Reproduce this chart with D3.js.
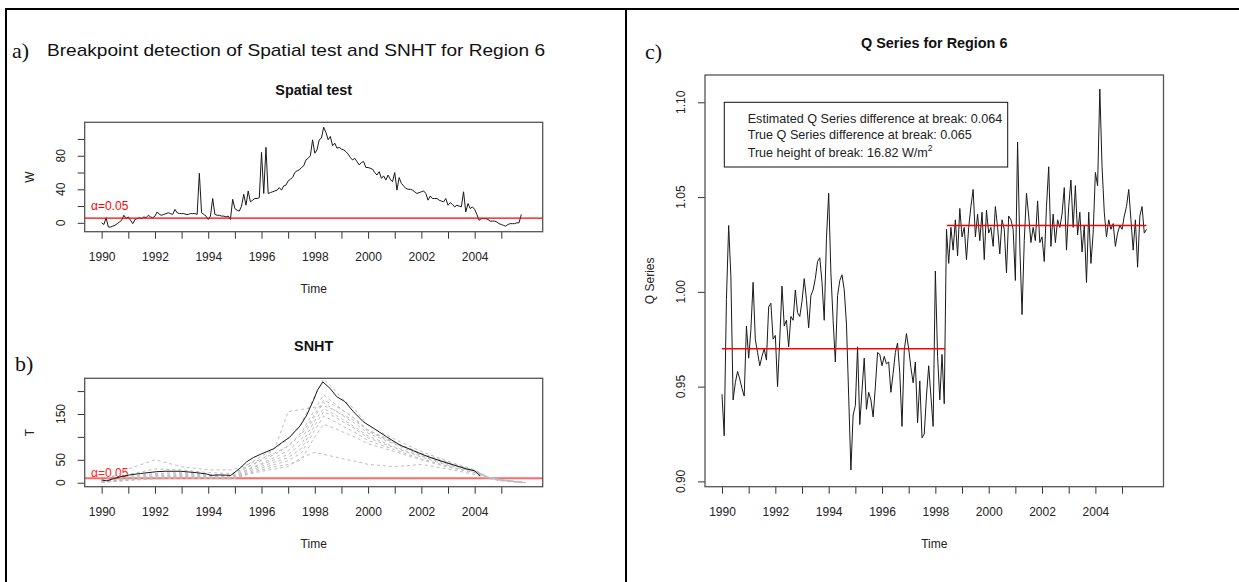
<!DOCTYPE html>
<html>
<head>
<meta charset="utf-8">
<script src="https://cdn.jsdelivr.net/npm/d3@7"></script>
<style>
  html, body { margin: 0; padding: 0; background: #fff; }
  svg { display: block; font-family: "Liberation Sans", Arial, Helvetica, sans-serif; }
</style>
</head>
<body>
<svg id="fig" width="1239" height="582"></svg>
<script>
// ---- shared time axis ----
const seriesStart = 1990;                 // first monthly observation
const xTickYears = d3.range(1990, 2006);  // one tick per year
const xTickLabels = ["1990", "1992", "1994", "1996", "1998", "2000", "2002", "2004"];
const xDomain = [1989.363, 2006.554];

// ---- a) spatial test statistic W, monthly ----
const spatialW = [
  0, -2, 6, -5, -5, -4, -3, -1, 1, 3, 9, 5,
  7, 3, -1, 4, 5, 6, 5, 7, 6, 9, 7, 6,
  8, 13, 10, 9, 10, 11, 12, 11, 10, 16, 12, 11,
  11, 11, 10, 10, 11, 11, 11, 10, 59, 12, 10, 8,
  4, 8, 29, 10, 9, 9, 8, 8, 7, 8, 4, 28,
  17, 15, 14, 20, 34, 21, 38, 25, 27, 29, 29, 30,
  84, 35, 90, 35, 36, 37, 38, 39, 42, 39, 44, 45,
  50, 52, 54, 60, 62, 63, 66, 68, 75, 77, 80, 99,
  83, 87, 99, 101, 114, 108, 99, 103, 92, 95, 89, 90,
  88, 87, 85, 82, 78, 75, 77, 73, 69, 72, 73, 66,
  66, 65, 64, 60, 57, 61, 53, 56, 51, 57, 52, 49,
  60, 39, 54, 47, 44, 41, 40, 40, 39, 37, 35, 36,
  37, 38, 35, 27, 32, 29, 29, 29, 27, 26, 25, 29,
  21, 24, 22, 19, 21, 20, 19, 37, 13, 23, 17, 19,
  16, 10, 3, 5, 5, 5, 4, 2, 2, 2, 1, -1,
  -2, -3, -4, -2, -1, -1, -1, 0, 0, 10
];
const alphaW = 5.6;
const wTicks = [0, 20, 40, 60, 80, 100];
const wTickLabels = ["0", "40", "80"];

// ---- b) SNHT statistic T for the region and its reference series ----
const snhtTimes = [1990, 1990.2, 1990.45, 1990.7, 1991.05, 1991.45, 1992.05, 1992.4, 1992.95,
  1993.55, 1993.95, 1994.1, 1994.4, 1994.85, 1995.2, 1995.45, 1995.7, 1996.0, 1996.45,
  1996.75, 1997.05, 1997.45, 1997.7, 1997.95, 1998.1, 1998.3, 1998.57, 1998.82, 1999.13,
  1999.45, 1999.82, 2000.2, 2000.7, 2001.2, 2001.7, 2002.2, 2002.7, 2003.2, 2003.7,
  2004.0, 2004.2];
const snhtT = [6, 4, 9, 13, 17, 20, 24, 25, 25,
  22, 19, 16, 17, 16, 32, 46, 55, 63, 74,
  87, 99, 124, 148, 180, 202, 220, 206, 188, 177,
  155, 133, 119, 100, 82, 70, 58, 48, 39, 30,
  26, 15];
const refTimes = [1990, 1990.5, 1991, 1992, 1993, 1994, 1994.9, 1995.5, 1996, 1996.5, 1997,
  1997.5, 1998, 1998.33, 1998.7, 1999, 1999.5, 2000, 2001, 2002, 2003, 2004, 2004.5, 2005, 2005.9];
const refT = [
  [3, 8, 14, 20, 22, 18, 16, 40, 58, 75, 95, 130, 190, 226, 205, 185, 160, 125, 95, 68, 47, 28, 12, 7, 0],
  [4, 10, 18, 30, 28, 22, 20, 35, 50, 75, 155, 160, 165, 168, 160, 150, 135, 115, 88, 62, 42, 25, 12, 6, 0],
  [2, 6, 12, 18, 20, 16, 14, 35, 48, 62, 80, 110, 160, 192, 175, 160, 140, 115, 88, 64, 45, 27, 12, 6, 0],
  [3, 7, 10, 15, 18, 15, 13, 30, 42, 55, 70, 95, 145, 175, 160, 148, 130, 108, 84, 60, 42, 26, 12, 6, 0],
  [2, 5, 9, 14, 16, 13, 12, 28, 40, 50, 62, 85, 135, 162, 150, 140, 122, 102, 78, 58, 40, 25, 12, 6, 0],
  [1, 4, 8, 12, 14, 12, 11, 25, 36, 45, 55, 75, 125, 155, 145, 135, 118, 98, 76, 56, 38, 24, 11, 5, 0],
  [2, 4, 7, 11, 13, 11, 10, 22, 32, 40, 48, 65, 115, 145, 135, 125, 110, 92, 72, 52, 36, 22, 11, 5, 0],
  [1, 3, 6, 10, 12, 10, 9, 20, 28, 35, 40, 50, 100, 128, 120, 112, 100, 85, 68, 50, 34, 21, 10, 5, 0],
  [1, 3, 5, 8, 10, 9, 8, 18, 25, 30, 35, 55, 66, 62, 57, 53, 47, 40, 35, 40, 30, 18, 9, 4, 0],
  [5, 15, 30, 50, 35, 28, 28, 40, 52, 65, 80, 105, 150, 180, 170, 160, 140, 112, 86, 62, 43, 26, 12, 6, 0]
];
const alphaT = 10;
const tTicks = [0, 50, 100, 150, 200];
const tTickLabels = ["0", "50", "150"];

// ---- c) Q series, monthly, with segment means either side of the break ----
const qSeries = [
  0.946, 0.924, 0.996, 1.035, 1.008, 0.943, 0.952, 0.958, 0.954, 0.949, 0.945, 0.982,
  0.965, 0.980, 1.005, 0.975, 0.968, 0.961, 0.966, 0.970, 0.964, 0.992, 0.994, 0.975,
  0.977, 0.950, 0.975, 1.003, 0.982, 0.985, 0.971, 0.987, 0.985, 1.001, 0.989, 0.987,
  0.995, 1.007, 0.996, 0.981, 0.998, 1.001, 1.007, 1.016, 1.018, 1.005, 0.985, 1.028,
  1.052, 1.010, 0.985, 0.963, 0.998, 1.006, 1.009, 1.001, 0.983, 0.945, 0.906, 0.935,
  0.940, 0.971, 0.930, 0.948, 0.965, 0.938, 0.947, 0.943, 0.934, 0.950, 0.968, 0.967,
  0.961, 0.966, 0.962, 0.963, 0.947, 0.957, 0.968, 0.973, 0.957, 0.929, 0.969, 0.978,
  0.970, 0.960, 0.952, 0.963, 0.931, 0.953, 0.923, 0.925, 0.945, 0.961, 0.945, 0.929,
  1.011, 0.966, 0.943, 0.967, 0.941, 1.033, 1.015, 1.034, 1.022, 1.038, 1.019, 1.044,
  1.029, 1.034, 1.017, 1.034, 1.045, 1.054, 1.029, 1.041, 1.027, 1.042, 1.017, 1.043,
  1.031, 1.034, 1.024, 1.045, 1.034, 1.020, 1.038, 1.033, 1.010, 1.040, 1.038, 1.033,
  1.006, 1.079, 1.024, 0.988, 1.027, 1.052, 1.040, 1.026, 1.034, 1.027, 1.048, 1.026,
  1.029, 1.016, 1.045, 1.066, 1.024, 1.041, 1.026, 1.038, 1.034, 1.041, 1.055, 1.022,
  1.045, 1.059, 1.034, 1.056, 1.030, 1.042, 1.021, 1.035, 1.005, 1.042, 1.015, 1.031,
  1.063, 1.056, 1.107, 1.066, 1.042, 1.029, 1.038, 1.033, 1.036, 1.024, 1.031, 1.035,
  1.033, 1.040, 1.045, 1.054, 1.038, 1.022, 1.038, 1.013, 1.040, 1.045, 1.031, 1.033
];
const qMeanBefore = 0.970;
const qMeanAfter = 1.035;
const qBreakEnd = 1998.37;    // last instant of the first segment mean
const qBreakStart = 1998.43;  // first instant of the second segment mean
const qTicks = [0.90, 0.95, 1.00, 1.05, 1.10];
const qTickLabels = ["0.90", "0.95", "1.00", "1.05", "1.10"];
const estDiff = "0.064";
const trueDiff = "0.065";
const trueHeight = "16.82";

// ---------------------------------------------------------------
const svg = d3.select("#fig");
const axisColor = "#333";
const monthly = (vals) => vals.map((v, i) => ({ t: seriesStart + i / 12, v }));

function drawPanel(opts) {
  const { box, yDomain, yTicks, yLabels, yFmt, title, yTitle } = opts;
  const x = d3.scaleLinear().domain(xDomain).range([box.l, box.r]);
  const y = d3.scaleLinear().domain(yDomain).range([box.b, box.t]);
  const g = svg.append("g");

  // x axis: ticks every year, labels every second year
  const xa = g.append("g")
    .attr("transform", `translate(0,${box.b})`)
    .call(d3.axisBottom(x).tickValues(xTickYears).tickSize(7).tickPadding(14)
      .tickFormat(d => xTickLabels.includes(String(d)) ? String(d) : ""));
  xa.select(".domain").remove();
  xa.selectAll("line").attr("stroke", axisColor);
  xa.selectAll("text").attr("font-size", 12).attr("fill", "#222")
    .attr("font-family", '"Liberation Sans", Arial, sans-serif');

  // y axis ticks
  const ya = g.append("g")
    .attr("transform", `translate(${box.l},0)`)
    .call(d3.axisLeft(y).tickValues(yTicks).tickSize(7).tickFormat(""));
  ya.select(".domain").remove();
  ya.selectAll("line").attr("stroke", axisColor);

  // y tick labels, written parallel to the axis
  g.append("g").selectAll("text")
    .data(yTicks.filter(d => yLabels.includes(yFmt(d))))
    .join("text")
    .attr("transform", d => `translate(${box.l - 20},${y(d)}) rotate(-90)`)
    .attr("text-anchor", "middle")
    .attr("font-size", 12).attr("fill", "#222")
    .text(d => yFmt(d));

  // titles
  g.append("text").attr("x", (box.l + box.r) / 2).attr("y", box.t - 32.5)
    .attr("text-anchor", "middle").attr("dominant-baseline", "central")
    .attr("font-size", 14.4).attr("font-weight", "bold").attr("fill", "#111")
    .text(title);
  g.append("text").attr("x", (box.l + box.r) / 2).attr("y", box.b + 57)
    .attr("text-anchor", "middle").attr("dominant-baseline", "central")
    .attr("font-size", 12).attr("fill", "#222").text("Time");
  g.append("text")
    .attr("transform", `translate(${box.l - 55},${(box.t + box.b) / 2}) rotate(-90)`)
    .attr("text-anchor", "middle").attr("dominant-baseline", "central")
    .attr("font-size", 12).attr("fill", "#222").text(yTitle);

  const plot = g.append("g");
  const over = g.append("g");   // reference lines drawn above the data
  // frame
  g.append("rect").attr("x", box.l).attr("y", box.t)
    .attr("width", box.r - box.l).attr("height", box.b - box.t)
    .attr("fill", "none").attr("stroke", "#555").attr("stroke-width", 1.3);
  return { x, y, plot, over, box };
}

const lineGen = (x, y, tk, vk) => d3.line().x(d => x(d[tk])).y(d => y(d[vk]));

// ---------------- panel a ----------------
{
  const p = drawPanel({
    box: { l: 84.7, r: 542.7, t: 122.3, b: 231.7 },
    yDomain: [-10.6, 119.9], yTicks: wTicks, yLabels: wTickLabels,
    yFmt: d => String(d), title: "Spatial test", yTitle: "W"
  });
  p.plot.append("path").datum(monthly(spatialW))
    .attr("d", lineGen(p.x, p.y, "t", "v"))
    .attr("fill", "none").attr("stroke", "#1a1a1a").attr("stroke-width", 1);
  p.over.append("line")
    .attr("x1", p.box.l).attr("x2", p.box.r)
    .attr("y1", p.y(alphaW)).attr("y2", p.y(alphaW))
    .attr("stroke", "#ff0000").attr("stroke-width", 1.3);
  p.over.append("text").attr("x", 91).attr("y", p.y(alphaW) - 12.5)
    .attr("dominant-baseline", "central").attr("font-size", 12).attr("fill", "#ff0000")
    .text("\u03b1=0.05");
}

// ---------------- panel b ----------------
{
  const p = drawPanel({
    box: { l: 84.7, r: 542.7, t: 378.3, b: 486.7 },
    yDomain: [-8.7, 227.9], yTicks: tTicks, yLabels: tTickLabels,
    yFmt: d => String(d), title: "SNHT", yTitle: "T"
  });
  p.plot.append("line")
    .attr("x1", p.box.l).attr("x2", p.box.r)
    .attr("y1", p.y(alphaT)).attr("y2", p.y(alphaT))
    .attr("stroke", "#ff6a6a").attr("stroke-width", 2);
  p.plot.append("text").attr("x", 91).attr("y", p.y(alphaT) - 5.5)
    .attr("dominant-baseline", "central").attr("font-size", 12).attr("fill", "#ff2020")
    .text("\u03b1=0.05");
  refT.forEach(vals => {
    const pts = refTimes.map((t, i) => ({ t, v: vals[i] }));
    p.plot.append("path").datum(pts)
      .attr("d", lineGen(p.x, p.y, "t", "v"))
      .attr("fill", "none").attr("stroke", "#bdbdbd").attr("stroke-width", 1)
      .attr("stroke-dasharray", "3,3");
  });
  const pts = snhtTimes.map((t, i) => ({ t, v: snhtT[i] }));
  p.plot.append("path").datum(pts)
    .attr("d", lineGen(p.x, p.y, "t", "v"))
    .attr("fill", "none").attr("stroke", "#1a1a1a").attr("stroke-width", 1);
}

// ---------------- panel c ----------------
{
  const p = drawPanel({
    box: { l: 705, r: 1163.5, t: 75, b: 486.7 },
    yDomain: [0.8972, 1.1144], yTicks: qTicks, yLabels: qTickLabels,
    yFmt: d => d.toFixed(2), title: "Q Series for Region 6", yTitle: "Q Series"
  });
  const data = monthly(qSeries);
  p.plot.append("path").datum(data)
    .attr("d", lineGen(p.x, p.y, "t", "v"))
    .attr("fill", "none").attr("stroke", "#1a1a1a").attr("stroke-width", 1);
  const lastT = data[data.length - 1].t;
  const means = [
    { t0: seriesStart, t1: qBreakEnd, v: qMeanBefore },
    { t0: qBreakStart, t1: lastT, v: qMeanAfter }
  ];
  means.forEach(d => {
    p.over.append("line")
      .attr("x1", p.x(d.t0)).attr("x2", p.x(d.t1))
      .attr("y1", p.y(d.v)).attr("y2", p.y(d.v))
      .style("stroke", "#ff0000").style("stroke-width", "1.4px");
  });

  // legend
  const lg = svg.append("g");
  lg.append("rect").attr("x", 724.3).attr("y", 102.3).attr("width", 283.4).attr("height", 64.7)
    .attr("fill", "#fff").attr("stroke", "#111").attr("stroke-width", 1);
  const tx = 747.7;
  lg.append("text").attr("x", tx).attr("y", 118.7).attr("dominant-baseline", "central")
    .attr("font-size", 12.6).attr("fill", "#222")
    .text(`Estimated Q Series difference at break: ${estDiff}`);
  lg.append("text").attr("x", tx).attr("y", 135).attr("dominant-baseline", "central")
    .attr("font-size", 12.6).attr("fill", "#222")
    .text(`True Q Series difference at break: ${trueDiff}`);
  const t3 = lg.append("text").attr("x", tx).attr("y", 156.5)
    .attr("font-size", 12.6).attr("fill", "#222");
  t3.append("tspan").text(`True height of break: ${trueHeight} W/m`);
  t3.append("tspan").attr("font-size", 8.5).attr("dy", -6).text("2");
}

// ---------------- page furniture ----------------
svg.append("text").attr("x", 12).attr("y", 50).attr("dominant-baseline", "central")
  .attr("font-family", '"Liberation Serif", "Times New Roman", serif')
  .attr("font-size", 22).attr("fill", "#111").text("a)");
svg.append("text").attr("x", 47).attr("y", 50).attr("dominant-baseline", "central")
  .attr("font-size", 17).attr("fill", "#111")
  .attr("textLength", 498).attr("lengthAdjust", "spacingAndGlyphs")
  .text("Breakpoint detection of Spatial test and SNHT for Region 6");
svg.append("text").attr("x", 15).attr("y", 363).attr("dominant-baseline", "central")
  .attr("font-family", '"Liberation Serif", "Times New Roman", serif')
  .attr("font-size", 22).attr("fill", "#111").text("b)");
svg.append("text").attr("x", 645).attr("y", 51).attr("dominant-baseline", "central")
  .attr("font-family", '"Liberation Serif", "Times New Roman", serif')
  .attr("font-size", 22).attr("fill", "#111").text("c)");

// table rules around the two halves
const rule = (x1, y1, x2, y2) => svg.append("line")
  .attr("x1", x1).attr("y1", y1).attr("x2", x2).attr("y2", y2)
  .attr("stroke", "#000").attr("stroke-width", 2);
rule(5, 9, 1239, 9);
rule(6, 9, 6, 582);
rule(626, 9, 626, 582);
</script>
</body>
</html>
